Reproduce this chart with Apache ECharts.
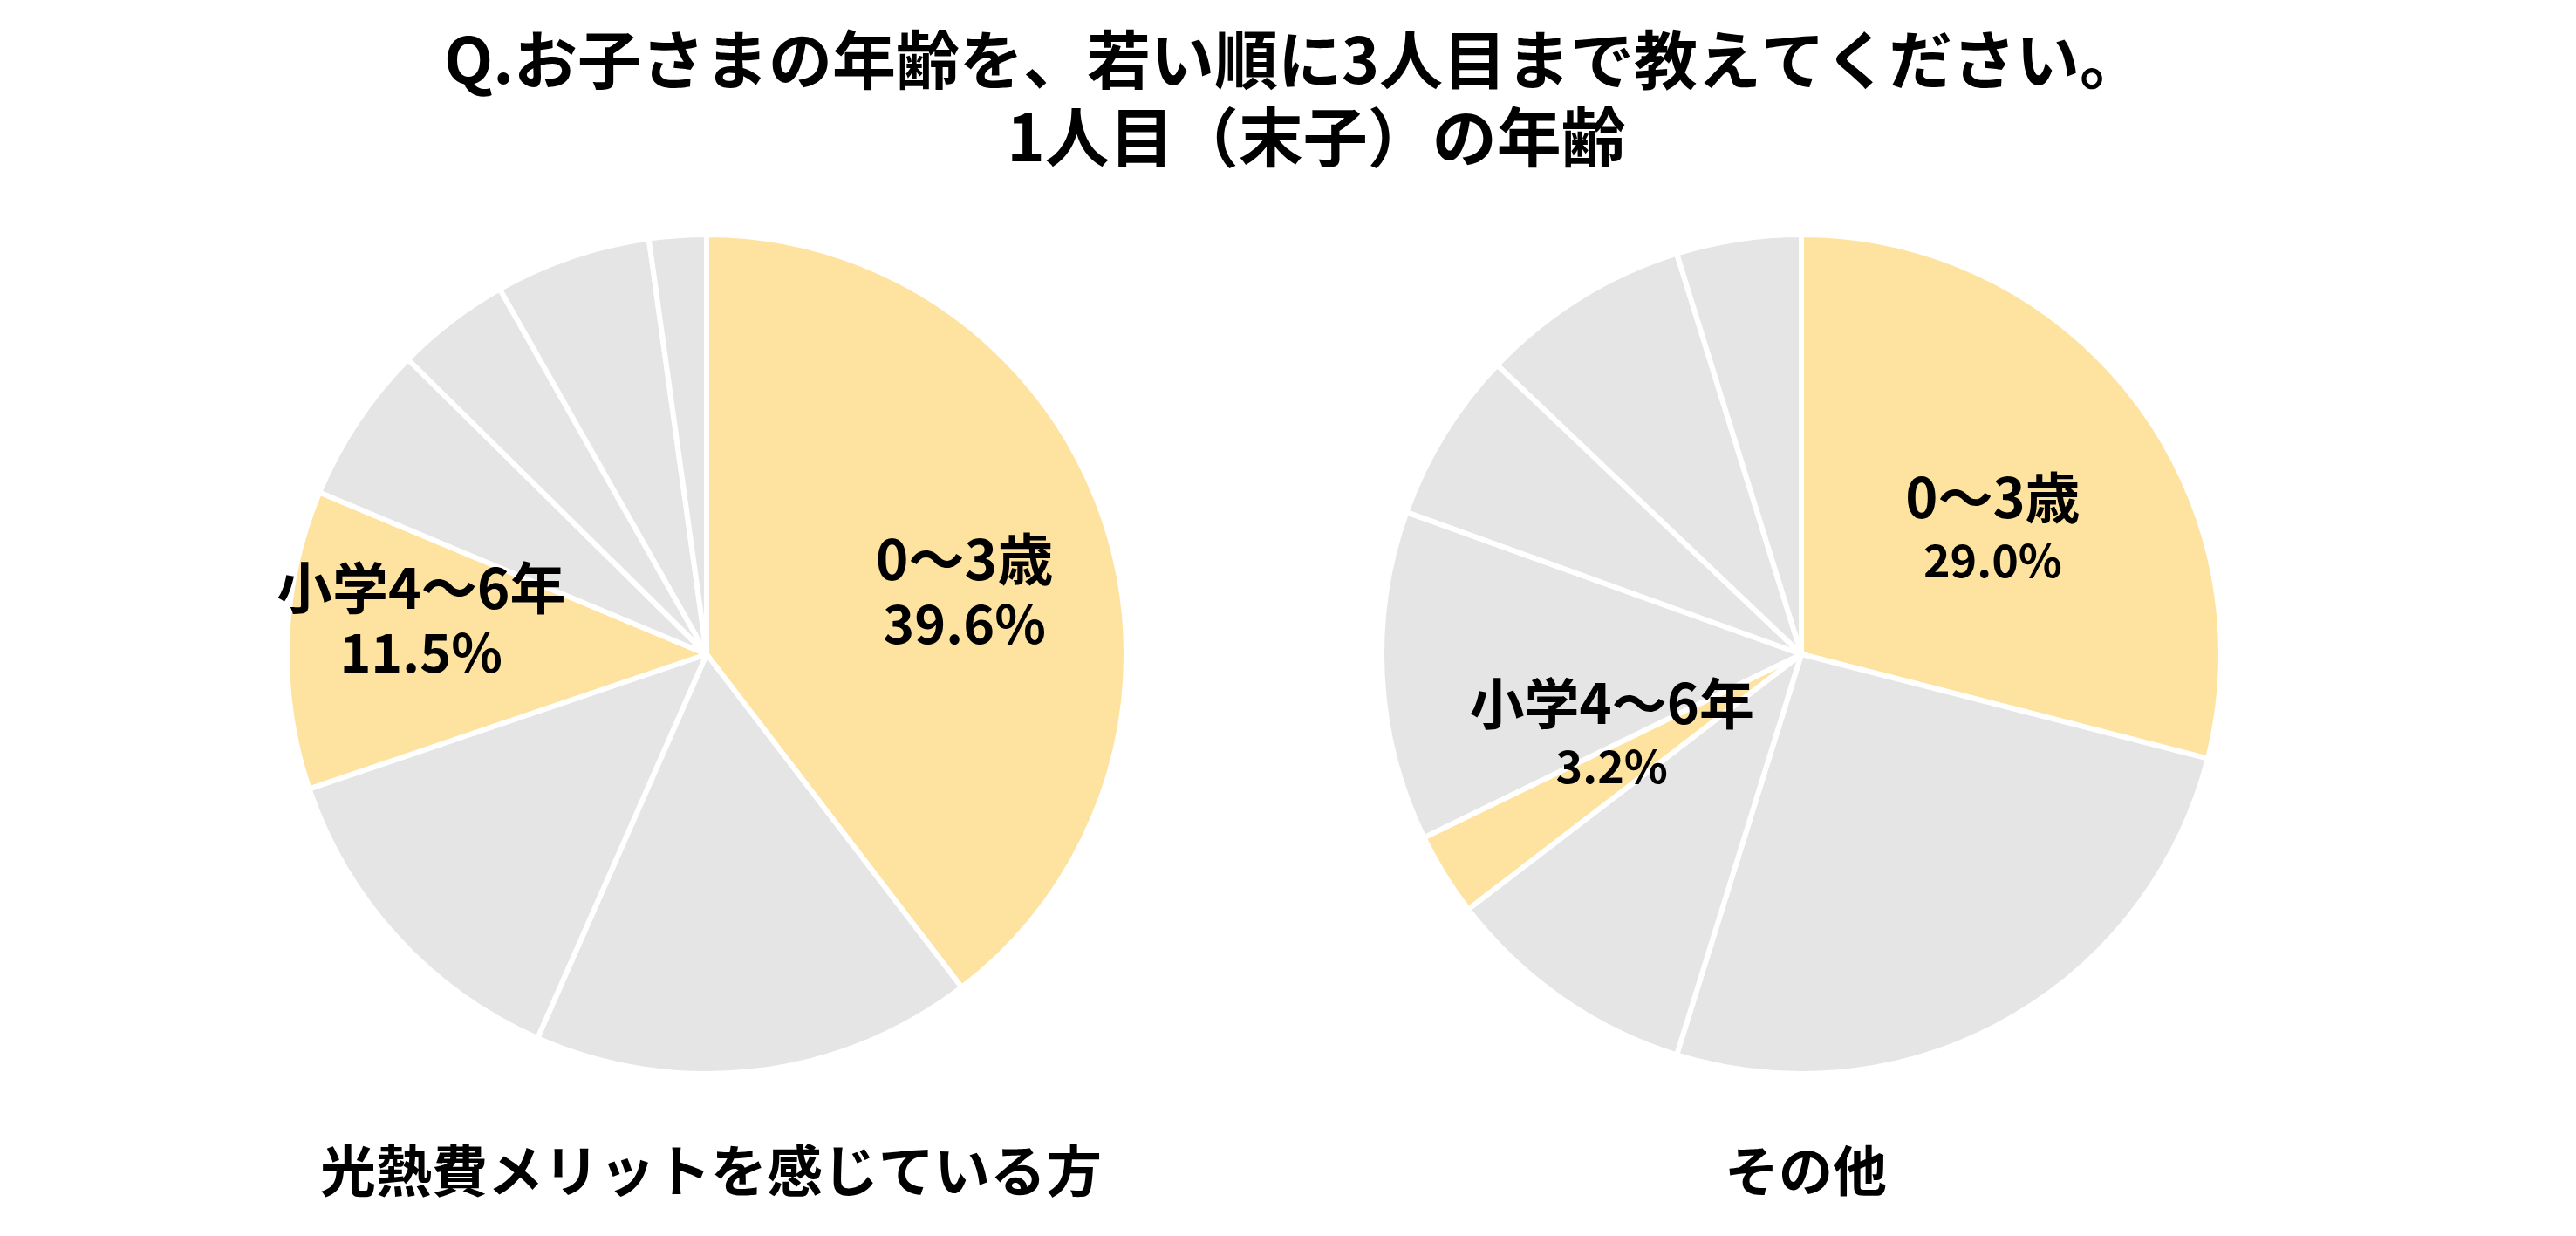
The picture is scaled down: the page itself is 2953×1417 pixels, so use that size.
<!DOCTYPE html>
<html>
<head>
<meta charset="utf-8">
<script src="https://cdn.jsdelivr.net/npm/echarts@6/dist/echarts.min.js"></script>
<style>
html,body{margin:0;padding:0;background:#fff;}
#chart{width:2953px;height:1417px;}
</style>
</head>
<body>
<div id="chart"></div>
<script>
// ---- data ----
const titleLines = ['Q.お子さまの年齢を、若い順に3人目まで教えてください。', '1人目（末子）の年齢'];
const groupNames = ['光熱費メリットを感じている方', 'その他'];
const categories = ['0～3歳', '4～6歳', '小学1～3年', '小学4～6年', '中学生', '高校生', '大学生以上', 'その他'];
const valuesMerit = [39.6, 17.0, 13.2, 11.5, 6.1, 4.4, 6.0, 2.2];
const valuesOther = [29.0, 25.8, 9.8, 3.2, 12.7, 6.6, 8.1, 4.8];
const labeledCategories = ['0～3歳', '小学4～6年'];

// ---- style ----
const FONT = '"Noto Sans CJK JP", "Noto Sans", sans-serif';
const YELLOW = '#FEE29F';
const GRAY = '#E5E5E5';
const R = 481;
// label offsets from default inside position (style only)
const labelShift = [
  {0: [65, 6], 3: [-84, -31]},
  {0: [27, 5], 3: [-10, -36]}
];
const nameFont = [64, 63];
const valueFont = [61, 52];
const labelLineHeight = [74, 72];
const groupFont = [64, 62];
const groupX = [810, 2065];
const titleStyle = [
  {x: 1478, top: 23, size: 73},
  {x: 1504, top: 112, size: 74}
];

function buildData(values) {
  return categories.map((c, i) => ({
    name: c,
    value: values[i],
    itemStyle: {color: labeledCategories.includes(c) ? YELLOW : GRAY},
    label: {show: labeledCategories.includes(c)}
  }));
}

function makeSeries(values, idx, cx) {
  return {
    type: 'pie',
    center: [cx, 750],
    radius: [0, R],
    startAngle: 90,
    clockwise: true,
    silent: true,
    animation: false,
    itemStyle: {borderColor: '#ffffff', borderWidth: 6},
    label: {
      position: 'inside',
      formatter: p => '{n|' + p.name + '}\n{v|' + p.value.toFixed(1) + '%}',
      rich: {
        n: {fontFamily: FONT, fontSize: nameFont[idx], fontWeight: 'bold', color: '#000', lineHeight: labelLineHeight[idx], align: 'center'},
        v: {fontFamily: FONT, fontSize: valueFont[idx], fontWeight: 'bold', color: '#000', lineHeight: labelLineHeight[idx], align: 'center'}
      }
    },
    labelLine: {show: false},
    labelLayout: function (params) {
      const s = labelShift[idx][params.dataIndex];
      if (!s) return {};
      return {dx: s[0], dy: s[1]};
    },
    data: buildData(values)
  };
}

const chart = echarts.init(document.getElementById('chart'), null, {renderer: 'canvas'});
chart.setOption({
  backgroundColor: '#ffffff',
  animation: false,
  title: titleLines.map((t, i) => ({
      text: t,
      left: titleStyle[i].x,
      top: titleStyle[i].top,
      textAlign: 'center',
      textStyle: {fontFamily: FONT, fontSize: titleStyle[i].size, fontWeight: 'bold', color: '#000', lineHeight: 80}
  })).concat(groupNames.map((g, i) => ({
      text: g,
      left: groupX[i],
      top: 1304,
      textAlign: 'center',
      textStyle: {fontFamily: FONT, fontSize: groupFont[i], fontWeight: 'bold', color: '#000', lineHeight: 66}
  }))),
  series: [
    makeSeries(valuesMerit, 0, 810),
    makeSeries(valuesOther, 1, 2065)
  ]
});
</script>
</body>
</html>
